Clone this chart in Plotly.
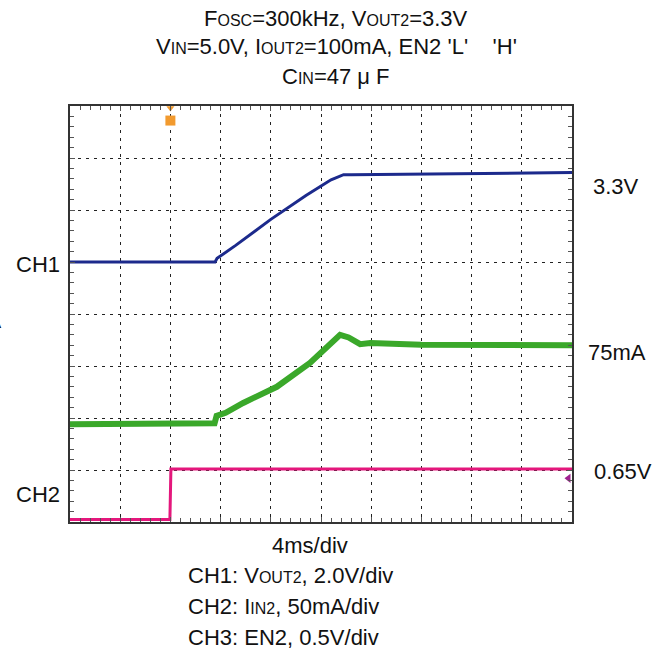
import plotly.graph_objects as go

# time axis in divisions (4 ms/div), amplitude in divisions
ch1_t = [0, 2.89, 2.93, 3.05, 3.3, 4.0, 4.7, 5.2, 5.45, 5.6, 10]
ch1_v = [5.0, 5.0, 5.07, 5.15, 5.32, 5.82, 6.28, 6.58, 6.68, 6.68, 6.72]

ch2_t = [0, 2.88, 2.92, 3.1, 3.45, 4.12, 4.78, 5.1, 5.38, 5.55, 5.78, 5.98, 7.0, 10]
ch2_v = [1.88, 1.9, 2.04, 2.1, 2.29, 2.6, 3.06, 3.33, 3.6, 3.55, 3.42, 3.44, 3.41, 3.4]

ch3_t = [0, 1.99, 2.01, 10]
ch3_v = [0.05, 0.05, 1.02, 1.02]

fig = go.Figure()
fig.add_trace(go.Scatter(x=ch3_t, y=ch3_v, mode="lines",
                         line=dict(color="#e4177c", width=3)))
fig.add_trace(go.Scatter(x=ch2_t, y=ch2_v, mode="lines",
                         line=dict(color="#3aa82a", width=6)))
fig.add_trace(go.Scatter(x=ch1_t, y=ch1_v, mode="lines",
                         line=dict(color="#1c2a8c", width=3)))
# trigger / level markers
fig.add_trace(go.Scatter(x=[2.0], y=[7.72], mode="markers",
                         marker=dict(symbol="square", size=10, color="#f29a2e")))
fig.add_trace(go.Scatter(x=[2.0], y=[7.96], mode="markers",
                         marker=dict(symbol="triangle-down", size=7, color="#f29a2e")))
fig.add_trace(go.Scatter(x=[9.93], y=[0.84], mode="markers",
                         marker=dict(symbol="triangle-left", size=8, color="#a0208f")))

ax = dict(showgrid=True, gridcolor="#222222", griddash="3px,5px", gridwidth=1,
          zeroline=False, showline=True, linecolor="#333333", linewidth=2, mirror="ticks",
          ticks="inside", ticklen=5, tickcolor="#555555", showticklabels=False,
          dtick=1, tick0=0,
          minor=dict(ticks="inside", ticklen=4, dtick=0.2, tickcolor="#555555", showgrid=False))
fig.update_xaxes(range=[0, 10], **ax)
fig.update_yaxes(range=[0, 8], **ax)

sm = "<span style='font-size:16px'>%s</span>"
font = dict(family="Liberation Sans, Arial, sans-serif", size=22, color="#111111")
notes = [
    (336, 18, "center", "F" + sm % "OSC" + "=300kHz, V" + sm % "OUT2" + "=3.3V"),
    (336, 47, "center", "V" + sm % "IN" + "=5.0V, I" + sm % "OUT2" + "=100mA, EN2 'L'    'H'"),
    (336, 77, "center", "C" + sm % "IN" + "=47 μ F"),
    (310, 545, "center", "4ms/div"),
    (186, 575, "left", "CH1: V" + sm % "OUT2" + ", 2.0V/div"),
    (186, 606, "left", "CH2: I" + sm % "IN2" + ", 50mA/div"),
    (186, 637, "left", "CH3: EN2, 0.5V/div"),
    (591, 186, "left", "3.3V"),
    (586, 352, "left", "75mA"),
    (592, 471, "left", "0.65V"),
    (14, 264, "left", "CH1"),
    (14, 494, "left", "CH2"),
    (4, 320, "right", "0mA"),
]
W, H = 664, 651
L, R, T, B = 70, 92, 106, 129
for px, py, anc, txt in notes:
    fig.add_annotation(x=(px - L) / (W - L - R), y=(H - B - py) / (H - T - B),
                       xref="paper", yref="paper", xanchor=anc, yanchor="middle",
                       text=txt, showarrow=False, font=font)

fig.update_layout(width=W, height=H, margin=dict(l=L, r=R, t=T, b=B),
                  paper_bgcolor="white", plot_bgcolor="white", showlegend=False)
fig.write_html("out.html", config={"displayModeBar": False},
               post_script="document.body.style.margin='0px';")
